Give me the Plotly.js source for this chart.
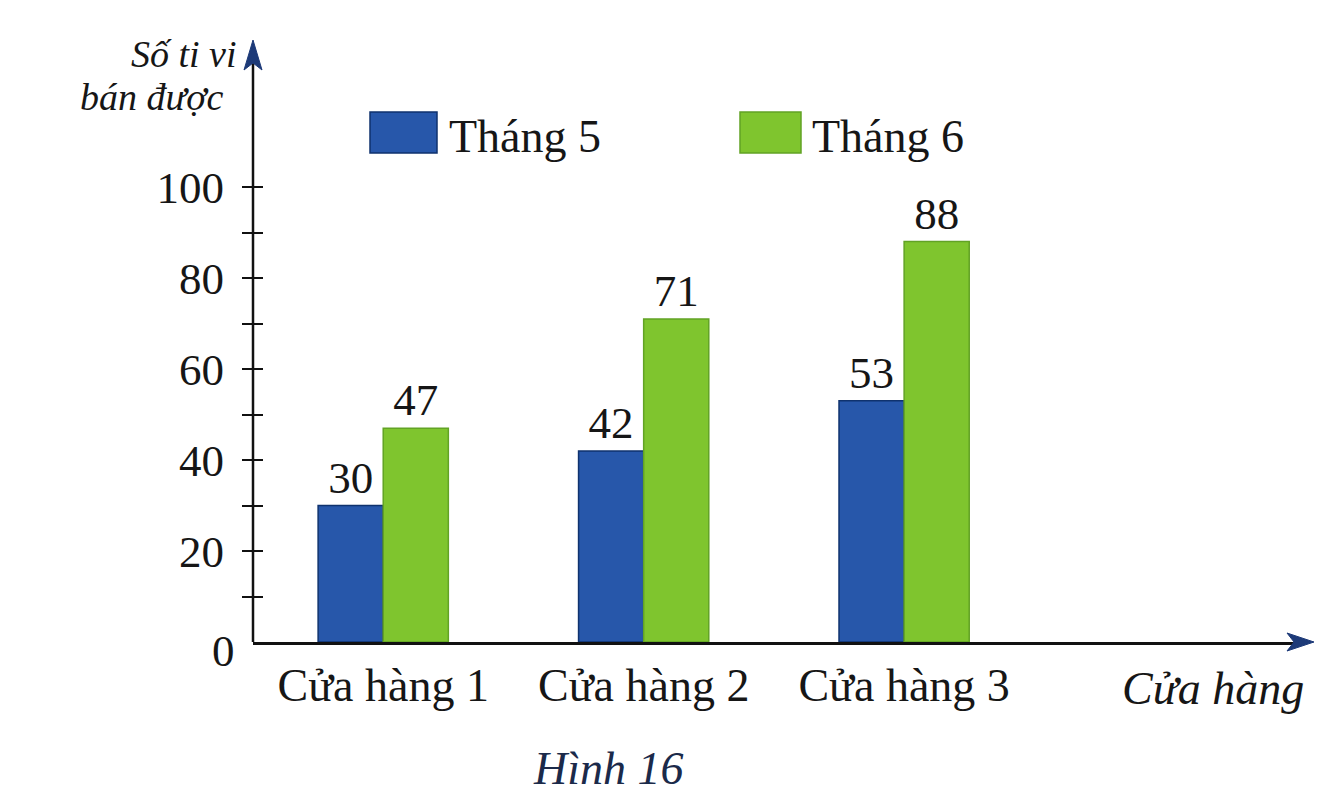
<!DOCTYPE html>
<html>
<head>
<meta charset="utf-8">
<script src="https://cdn.plot.ly/plotly-3.0.1.min.js"></script>
<style>html,body{margin:0;padding:0;background:#fff;}#chart{width:1321px;height:802px;}</style>
</head>
<body>
<div id="chart"></div>
<script>
// ---- data ----
const stores = ['Cửa hàng 1', 'Cửa hàng 2', 'Cửa hàng 3'];
const seriesNames = ['Tháng 5', 'Tháng 6'];
const may = [30, 42, 53];
const june = [47, 71, 88];
const yTickVals = [20, 40, 60, 80, 100];
const yMinorVals = [10, 30, 50, 70, 90];
const yZeroLabel = '0';
const yTitleLines = ['Số ti vi', 'bán được'];
const xTitle = 'Cửa hàng';
const caption = 'Hình 16';

// ---- style ----
const FONT = 'Liberation Serif, Times New Roman, serif';
const TXT = '#161616';
const colors = ['#2757aa', '#7fc52e'];
const borders = ['#0f326e', '#62a325'];
const W = 1047, H = 582; // plot area size in px

const traces = [may, june].map((vals, i) => ({
  type: 'bar',
  name: seriesNames[i],
  x: stores,
  y: vals,
  text: vals.map(String),
  textposition: 'outside',
  cliponaxis: false,
  textfont: {family: FONT, size: 45, color: TXT},
  marker: {color: colors[i], line: {color: borders[i], width: 1.5}},
  showlegend: false,
  hoverinfo: 'x+y+name'
}));

const px = (v) => (v - 253) / W;  // page x -> paper
const py = (v) => (642 - v) / H;  // page y -> paper

const shapes = [];
// y axis line (ticks are drawn by the free-positioned y axis)
shapes.push({type: 'line', xref: 'paper', yref: 'paper', x0: 0, x1: 0, y0: 0, y1: py(58),
  line: {color: '#111', width: 2.5}});
// y arrowhead
shapes.push({type: 'path', xref: 'paper', yref: 'paper', fillcolor: '#1d3a78', line: {color: '#1d3a78', width: 1},
  path: `M ${px(253)},${py(40)} L ${px(244)},${py(70)} L ${px(253)},${py(63)} L ${px(262)},${py(70)} Z`});
// x arrowhead
shapes.push({type: 'path', xref: 'paper', yref: 'paper', fillcolor: '#1d3a78', line: {color: '#1d3a78', width: 1},
  path: `M ${px(1314)},${py(642)} L ${px(1287)},${py(633)} L ${px(1294)},${py(642)} L ${px(1287)},${py(651)} Z`});
// legend swatches
const swX = [[370, 437], [740, 801]];
swX.forEach((s, i) => shapes.push({type: 'rect', xref: 'paper', yref: 'paper',
  x0: px(s[0]), x1: px(s[1]), y0: py(153), y1: py(112),
  fillcolor: colors[i], line: {color: borders[i], width: 1.5}}));

const annotations = [];
const legTextX = [447, 810];
seriesNames.forEach((n, i) => annotations.push({xref: 'paper', yref: 'paper', x: px(legTextX[i]), y: py(136),
  xanchor: 'left', yanchor: 'middle', showarrow: false, text: n, font: {family: FONT, size: 46, color: TXT}}));
annotations.push({xref: 'paper', yref: 'paper', x: px(239), y: py(54), xanchor: 'right', yanchor: 'middle',
  showarrow: false, text: '<i>' + yTitleLines[0] + '</i>', font: {family: FONT, size: 38, color: TXT}});
annotations.push({xref: 'paper', yref: 'paper', x: px(226), y: py(97), xanchor: 'right', yanchor: 'middle',
  showarrow: false, text: '<i>' + yTitleLines[1] + '</i>', font: {family: FONT, size: 38, color: TXT}});
annotations.push({xref: 'paper', yref: 'paper', x: px(223), y: py(651), xanchor: 'center', yanchor: 'middle',
  showarrow: false, text: yZeroLabel, font: {family: FONT, size: 45, color: TXT}});
annotations.push({xref: 'paper', yref: 'paper', x: px(1306), y: py(688), xanchor: 'right', yanchor: 'middle',
  showarrow: false, text: '<i>' + xTitle + '</i>', font: {family: FONT, size: 46, color: TXT}});
annotations.push({xref: 'paper', yref: 'paper', x: px(608), y: py(768), xanchor: 'center', yanchor: 'middle',
  showarrow: false, text: '<i>' + caption + '</i>', font: {family: FONT, size: 46, color: '#1b2a4a'}});

const yRange = [0, (642 - 60) / 4.55];

const layout = {
  width: 1321, height: 802,
  margin: {l: 253, r: 21, t: 60, b: 160, pad: 0},
  paper_bgcolor: '#ffffff', plot_bgcolor: '#ffffff',
  barmode: 'group', bargap: 0.5, bargroupgap: 0,
  showlegend: false,
  xaxis: {
    type: 'category', range: [-0.5, 3.52], showgrid: false, zeroline: false,
    showline: true, linecolor: '#111', linewidth: 2.5, ticks: '',
    tickfont: {family: FONT, size: 46, color: TXT}, ticklabelstandoff: 1
  },
  yaxis: {
    range: yRange, anchor: 'free', position: 10 / W, showgrid: false, zeroline: false,
    showline: false,
    tickmode: 'array', tickvals: yTickVals, ticktext: yTickVals.map(String),
    ticks: 'outside', ticklen: 21, tickwidth: 2, tickcolor: '#111',
    minor: {tickmode: 'array', tickvals: yMinorVals, ticks: 'outside', ticklen: 21, tickwidth: 2, tickcolor: '#111'},
    tickfont: {family: FONT, size: 45, color: TXT}, ticklabelstandoff: 9
  },
  shapes: shapes,
  annotations: annotations
};

Plotly.newPlot('chart', traces, layout, {displayModeBar: false, staticPlot: true});
</script>
</body>
</html>
